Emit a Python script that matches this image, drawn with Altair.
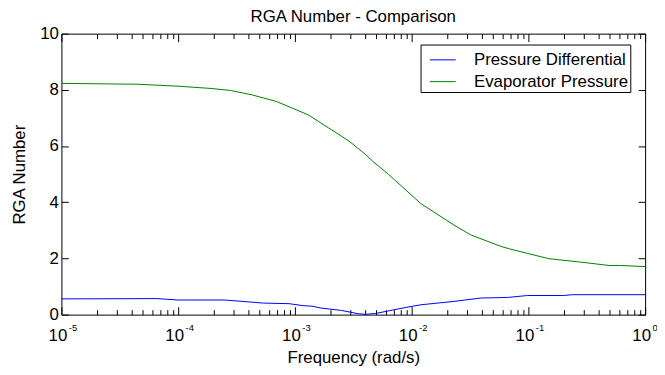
import altair as alt
import pandas as pd

# ---- data ----
series_names = ["Pressure Differential", "Evaporator Pressure"]
series_colors = ["#0000ff", "#008000"]

blue_freq = [1e-5, 6.6e-5, 1e-4, 2.5e-4, 5.4e-4, 8.9e-4, 1.17e-3, 1.4e-3, 1.7e-3,
             2.5e-3, 3.5e-3, 4.0e-3, 4.9e-3, 9.3e-3, 1.2e-2, 2.3e-2, 3.9e-2,
             6.6e-2, 9.8e-2, 0.2, 0.24, 1.0]
blue_val = [0.56, 0.57, 0.52, 0.52, 0.41, 0.39, 0.32, 0.30, 0.23,
            0.15, 0.03, 0.01, 0.04, 0.27, 0.35, 0.47, 0.59,
            0.61, 0.68, 0.68, 0.71, 0.71]

green_freq = [1e-5, 4.5e-5, 1e-4, 1.9e-4, 2.8e-4, 4.3e-4, 6.9e-4, 8.9e-4, 1.3e-3,
              1.95e-3, 2.9e-3, 4.0e-3, 4.6e-3, 6.3e-3, 1.2e-2, 2.3e-2, 3.2e-2,
              5.8e-2, 6.9e-2, 9.8e-2, 0.15, 0.28, 0.49, 0.6, 1.0]
green_val = [8.23, 8.2, 8.13, 8.05, 7.98, 7.82, 7.59, 7.40, 7.11,
             6.64, 6.18, 5.71, 5.47, 5.0, 3.95, 3.19, 2.84,
             2.43, 2.34, 2.18, 1.99, 1.87, 1.75, 1.75, 1.71]

x_major = [1e-5, 1e-4, 1e-3, 1e-2, 1e-1, 1.0]
x_exponents = ["-5", "-4", "-3", "-2", "-1", "0"]
minor_mult = [2, 3, 4, 5, 6, 7, 8, 9]
x_minor = [m * d for d in x_major[:-1] for m in minor_mult]
y_ticks = [0, 2, 4, 6, 8, 10]

df = pd.concat([
    pd.DataFrame({"freq": blue_freq, "val": blue_val, "series": series_names[0]}),
    pd.DataFrame({"freq": green_freq, "val": green_val, "series": series_names[1]}),
])

FONT = "Liberation Sans"
x_scale = alt.Scale(type="log", domain=[1e-5, 1], nice=False)
y_scale = alt.Scale(domain=[0, 10], nice=False)

common = dict(domain=False, grid=False, tickColor="black", tickWidth=1,
              labelColor="black", labelFont=FONT, labelFontSize=17,
              labelFlush=False, labelOverlap=False, minExtent=0)

exp_expr = " : ".join(
    f"abs(log(datum.value)/LN10 - ({e})) < 0.01 ? '{e}'" for e in x_exponents
) + " : ''"

x_main_axis = alt.Axis(orient="bottom", values=x_major, tickSize=8, offset=-8,
                       labelExpr="'10'", labelOffset=-4, labelPadding=13,
                       title="Frequency (rad/s)", titleFont=FONT, titleFontSize=17,
                       titleFontWeight="normal", titleColor="black", titlePadding=6,
                       **common)
y_main_axis = alt.Axis(orient="left", values=y_ticks, tickSize=7, offset=-7,
                       labelPadding=3, title="RGA Number", titleFont=FONT,
                       titleFontSize=17, titleFontWeight="normal", titleColor="black",
                       titlePadding=11, **common)

main = alt.Chart(df).mark_line(strokeWidth=1).encode(
    x=alt.X("freq:Q", scale=x_scale, axis=x_main_axis),
    y=alt.Y("val:Q", scale=y_scale, axis=y_main_axis),
    color=alt.Color("series:N",
                    scale=alt.Scale(domain=series_names, range=series_colors),
                    legend=alt.Legend(title=None, orient="none", legendX=363, legendY=11,
                                      padding=2, strokeColor="black", fillColor="white",
                                      symbolType="stroke", symbolSize=676,
                                      symbolOffset=7, symbolStrokeWidth=1,
                                      labelFontSize=17, labelFont=FONT,
                                      labelColor="black", rowPadding=-5,
                                      labelOffset=18, labelLimit=400)),
    detail="series:N",
)

hidden = dict(strokeOpacity=0, strokeWidth=1)

frame_major = alt.Chart(df).mark_line(**hidden).encode(
    x=alt.X("freq:Q", scale=x_scale,
            axis=alt.Axis(orient="top", values=x_major, tickSize=8, offset=-8,
                          labels=False, title=None, **common)),
    y=alt.Y("val:Q", scale=y_scale,
            axis=alt.Axis(orient="right", values=y_ticks, tickSize=7, offset=-7,
                          labels=False, title=None, **common)),
    detail="series:N",
)

minor_bottom = alt.Chart(df).mark_line(**hidden).encode(
    x=alt.X("freq:Q", scale=x_scale,
            axis=alt.Axis(orient="bottom", values=x_minor, tickSize=5, offset=-5,
                          labels=False, title=None, **common)),
    y=alt.Y("val:Q", scale=y_scale, axis=None),
    detail="series:N",
)

minor_top = alt.Chart(df).mark_line(**hidden).encode(
    x=alt.X("freq:Q", scale=x_scale,
            axis=alt.Axis(orient="top", values=x_minor, tickSize=5, offset=-5,
                          labels=False, title=None, **common)),
    y=alt.Y("val:Q", scale=y_scale, axis=None),
    detail="series:N",
)

exp_common = dict(common)
exp_common["labelFontSize"] = 9.5
exponent_layer = alt.Chart(df).mark_line(**hidden).encode(
    x=alt.X("freq:Q", scale=x_scale,
            axis=alt.Axis(orient="bottom", values=x_major, ticks=False, tickSize=0,
                          offset=0, labelExpr=exp_expr, labelAlign="left",
                          labelOffset=7, labelPadding=8.5, title=None, **exp_common)),
    y=alt.Y("val:Q", scale=y_scale, axis=None),
    detail="series:N",
)

chart = alt.layer(main, frame_major, minor_bottom, minor_top, exponent_layer).resolve_axis(
    x="independent", y="independent"
).properties(
    width=590,
    height=284,
    padding={"left": 54, "top": 24, "right": 12, "bottom": 50},
    autosize=alt.AutoSizeParams(type="none"),
    background="white",
    title=alt.TitleParams("RGA Number - Comparison", font=FONT, fontSize=17,
                          fontWeight="normal", color="black", anchor="middle",
                          frame="group", baseline="alphabetic", offset=-14),
).configure_view(stroke="black", strokeWidth=1)

chart.save("out.html", embed_options={"renderer": "svg", "actions": False})
